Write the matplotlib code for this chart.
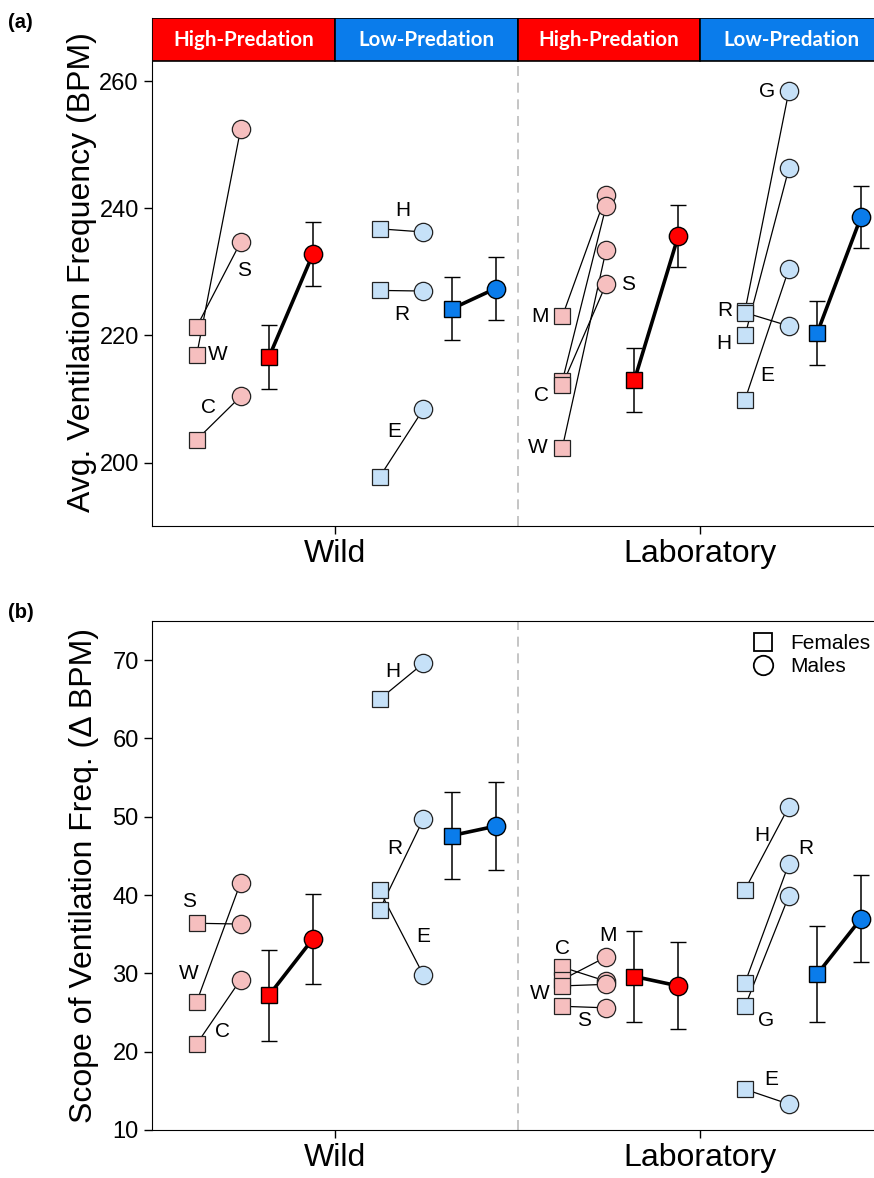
import matplotlib.pyplot as plt
from matplotlib.patches import Rectangle
from matplotlib.lines import Line2D

plt.rcParams['font.family'] = ['Liberation Sans', 'DejaVu Sans']

# ---- data ----
habitats = ['Wild', 'Laboratory']
regimes = ['High-Predation', 'Low-Predation', 'High-Predation', 'Low-Predation']

# (a) average ventilation frequency (BPM); groups: wild HP, wild LP, lab HP, lab LP
avg_sites = [['S', 'W', 'C'], ['H', 'R', 'E'], ['M', 'C', 'W', 'S'], ['G', 'R', 'H', 'E']]
avg_fem = [[221.4, 217.0, 203.6], [236.8, 227.1, 197.7],
           [223.0, 212.8, 202.3, 212.2], [223.9, 223.6, 220.0, 209.9]]
avg_male = [[234.7, 252.5, 210.4], [236.3, 227.0, 208.4],
            [242.1, 240.4, 233.5, 228.1], [258.5, 221.5, 246.3, 230.5]]
avg_fem_mean = [216.6, 224.2, 213.0, 220.4]
avg_fem_se = [5.05, 4.95, 5.0, 5.1]
avg_male_mean = [232.8, 227.4, 235.7, 238.7]
avg_male_se = [5.05, 4.95, 4.9, 4.9]

# (b) scope of ventilation frequency (delta BPM)
scope_sites = [['S', 'W', 'C'], ['H', 'R', 'E'], ['C', 'M', 'W', 'S'], ['H', 'R', 'G', 'E']]
scope_fem = [[36.4, 26.4, 21.0], [65.0, 38.1, 40.6],
             [30.8, 29.2, 28.4, 25.8], [40.7, 28.8, 25.8, 15.2]]
scope_male = [[36.3, 41.6, 29.2], [69.6, 49.7, 29.8],
              [29.0, 32.1, 28.6, 25.6], [51.3, 44.0, 39.9, 13.3]]
scope_fem_mean = [27.2, 47.6, 29.6, 29.9]
scope_fem_se = [5.8, 5.6, 5.8, 6.1]
scope_male_mean = [34.4, 48.8, 28.4, 37.0]
scope_male_se = [5.75, 5.65, 5.55, 5.5]

# ---- layout / style ----
X_F, X_M, X_MF, X_MM = 0.245, 0.485, 0.64, 0.88
light = ['#F6BFBF', '#C6E1F8']
dark = ['#FF0000', '#0A7CEB']

# site letter placement: (attach to female/male point, dx px, dy px)
avg_lbl = [[('m', 3, -28), ('f', 21, 0), ('f', 12, 32)],
           [('f', 23, 18), ('f', 22, -24), ('f', 15, 46)],
           [('f', -22, 0), ('f', -21, -14), ('f', -24, 0), ('m', 22, 0)],
           [('m', -22, 0), ('f', -20, 2), ('f', -21, -8), ('f', 22, 24)]]
scope_lbl = [[('f', -8, 22), ('f', -8, 28), ('f', 26, 12)],
             [('f', 13, 28), ('m', -29, -29), ('m', 0, 38)],
             [('f', 0, 19), ('m', 2, 21), ('f', -22, -8), ('f', 22, -14)],
             [('m', -27, -29), ('m', 17, 15), ('f', 21, -14), ('f', 26, 10)]]


def draw_panel(ax, sites, fem, male, fm, fse, mm, mse, lbl):
    for g in range(4):
        xf, xm = g + X_F, g + X_M
        for s, f, m, (which, dx, dy) in zip(sites[g], fem[g], male[g], lbl[g]):
            ax.plot([xf, xm], [f, m], color='black', lw=0.9, zorder=2)
            ax.plot(xf, f, 's', ms=11.5, mfc=light[g % 2], mec='#222222', mew=0.9, zorder=3)
            ax.plot(xm, m, 'o', ms=13.2, mfc=light[g % 2], mec='#222222', mew=0.9, zorder=3)
            pt = (xf, f) if which == 'f' else (xm, m)
            ax.annotate(s, pt, xytext=(dx, dy), textcoords='offset pixels',
                        ha='center', va='center', fontsize=15, zorder=6)
        ax.plot([g + X_MF, g + X_MM], [fm[g], mm[g]], color='black', lw=2.6, zorder=4)
        ax.errorbar(g + X_MF, fm[g], yerr=fse[g], fmt='s', ms=12, mfc=dark[g % 2],
                    mec='black', mew=1.0, ecolor='black', elinewidth=1.1,
                    capsize=6, capthick=1.1, zorder=5)
        ax.errorbar(g + X_MM, mm[g], yerr=mse[g], fmt='o', ms=13.2, mfc=dark[g % 2],
                    mec='black', mew=1.0, ecolor='black', elinewidth=1.1,
                    capsize=6, capthick=1.1, zorder=5)
    ax.set_xlim(0, 4)
    ax.set_xticks([1, 3])
    ax.set_xticklabels(habitats, fontsize=23)
    ax.tick_params(axis='both', direction='out', length=6, width=1.0)
    ax.tick_params(axis='y', labelsize=17)
    ax.spines['right'].set_visible(False)


W, H = 874, 1178
fig = plt.figure(figsize=(W / 100, H / 100), dpi=100)

# (a)
ax1 = fig.add_axes([152 / W, 1 - 526 / H, 731 / W, 508 / H])
draw_panel(ax1, avg_sites, avg_fem, avg_male, avg_fem_mean, avg_fem_se,
           avg_male_mean, avg_male_se, avg_lbl)
ax1.set_ylim(190, 270)
ax1.set_yticks([200, 220, 240, 260])
ax1.spines['top'].set_visible(False)
ax1.plot([2, 2], [190, 263.2], color='#BBBBBB', lw=1.2, ls=(0, (6, 4)), zorder=1)
for i, name in enumerate(regimes):
    ax1.add_patch(Rectangle((i, 263.2), 1, 6.8, facecolor=dark[i % 2],
                            edgecolor='black', lw=1.2, zorder=6))
    ax1.text(i + 0.5, 266.6, name, color='white', fontsize=14.8, fontweight='bold',
             family=['Lato', 'DejaVu Sans'], ha='center', va='center', zorder=7)
ax1.set_ylabel('Avg. Ventilation Frequency (BPM)', fontsize=23)
ax1.yaxis.set_label_coords(-0.075, 0.5)

# (b)
ax2 = fig.add_axes([152 / W, 1 - 1130 / H, 731 / W, 509 / H])
draw_panel(ax2, scope_sites, scope_fem, scope_male, scope_fem_mean, scope_fem_se,
           scope_male_mean, scope_male_se, scope_lbl)
ax2.set_ylim(10, 75)
ax2.set_yticks(range(10, 71, 10))
ax2.axvline(2, color='#BBBBBB', lw=1.2, ls=(0, (6, 4)), zorder=1)
ax2.set_ylabel('Scope of Ventilation Freq. (\u0394 BPM)', fontsize=23)
ax2.yaxis.set_label_coords(-0.0725, 0.5)

handles = [Line2D([], [], marker='s', ls='none', ms=13, mfc='white', mec='black', mew=1.3),
           Line2D([], [], marker='o', ls='none', ms=14, mfc='white', mec='black', mew=1.3)]
ax2.legend(handles, ['Females', 'Males'], loc='upper left', bbox_to_anchor=(0.821, 0.9745),
           frameon=False, fontsize=15, handlelength=1.0, handletextpad=0.85,
           borderpad=0, borderaxespad=0, labelspacing=0.2)

fig.text(8 / W, 1 - 22 / H, '(a)', fontsize=14.5, fontweight='bold', va='center')
fig.text(8 / W, 1 - 613 / H, '(b)', fontsize=14.5, fontweight='bold', va='center')

fig.savefig('out.png', dpi=100)
